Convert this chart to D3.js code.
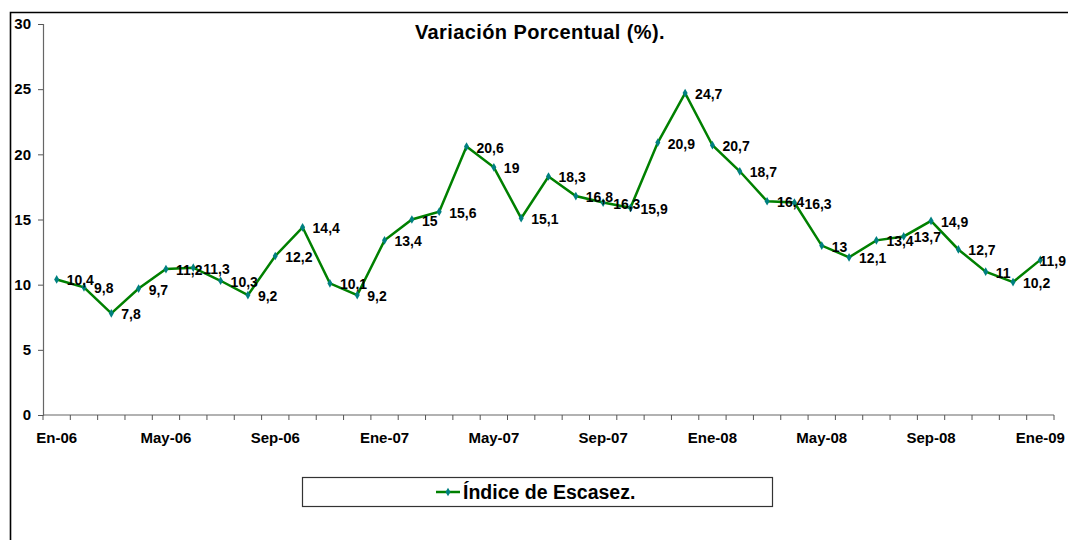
<!DOCTYPE html>
<html>
<head>
<meta charset="utf-8">
<script src="https://cdn.jsdelivr.net/npm/d3@7"></script>
<style>
  body { margin: 0; background: #fff; }
  svg text { font-family: "Liberation Sans", Arial, sans-serif; font-weight: bold; fill: #000; }
</style>
</head>
<body>
<div id="plot"></div>
<script>
// monthly categories En-06 .. Ene-09
var months = ["En-06","Feb-06","Mar-06","Abr-06","May-06","Jun-06","Jul-06","Ago-06","Sep-06","Oct-06","Nov-06","Dic-06",
              "Ene-07","Feb-07","Mar-07","Abr-07","May-07","Jun-07","Jul-07","Ago-07","Sep-07","Oct-07","Nov-07","Dic-07",
              "Ene-08","Feb-08","Mar-08","Abr-08","May-08","Jun-08","Jul-08","Ago-08","Sep-08","Oct-08","Nov-08","Dic-08",
              "Ene-09"];
var values = [10.4, 9.8, 7.8, 9.7, 11.2, 11.3, 10.3, 9.2, 12.2, 14.4, 10.1, 9.2,
              13.4, 15, 15.6, 20.6, 19, 15.1, 18.3, 16.8, 16.3, 15.9, 20.9, 24.7,
              20.7, 18.7, 16.4, 16.3, 13, 12.1, 13.4, 13.7, 14.9, 12.7, 11, 10.2,
              11.9];
var shownLabels = ["En-06","May-06","Sep-06","Ene-07","May-07","Sep-07","Ene-08","May-08","Sep-08","Ene-09"];
var yTicks = [0, 5, 10, 15, 20, 25, 30];
var seriesName = "Índice de Escasez.";
var title = "Variación Porcentual (%).";

var width = 1068, height = 540;
var svg = d3.select("#plot").append("svg")
    .attr("width", width)
    .attr("height", height);

// outer frame (right and bottom edges run off the picture)
svg.append("path")
    .attr("d", "M10.5,540 L10.5,12.5 L1068,12.5")
    .attr("fill", "none")
    .attr("stroke", "#000")
    .attr("stroke-width", 1.6);

var x = d3.scaleBand().domain(months).range([43, 1054]);
var y = d3.scaleLinear().domain([0, 30]).range([415, 24]);

function cx(d) { return x(d) + x.bandwidth() / 2; }

// x axis: category ticks at band edges
var xAxis = svg.append("g").attr("transform", "translate(0,415)");
xAxis.append("line")
    .attr("x1", 43).attr("x2", 1054)
    .attr("stroke", "#666").attr("stroke-width", 1.2);
var edges = months.map(function(m) { return x(m); }).concat([x.range()[1]]);
xAxis.selectAll(".xt").data(edges).enter().append("line")
    .attr("x1", function(d) { return d; }).attr("x2", function(d) { return d; })
    .attr("y1", 0).attr("y2", 5)
    .attr("stroke", "#555").attr("stroke-width", 1);
xAxis.selectAll(".xl").data(shownLabels).enter().append("text")
    .attr("x", function(d) { return cx(d); })
    .attr("y", 28)
    .attr("text-anchor", "middle")
    .style("font-size", "15px")
    .text(function(d) { return d; });

// y axis
var yAxis = svg.append("g").attr("transform", "translate(43,0)")
    .call(d3.axisLeft(y).tickValues(yTicks).tickSize(5).tickPadding(7));
yAxis.select(".domain").attr("stroke", "#666").attr("stroke-width", 1.2);
yAxis.selectAll(".tick line").attr("stroke", "#555");
yAxis.selectAll(".tick text")
    .style("font-size", "15px")
    .style("font-family", "'Liberation Sans', Arial, sans-serif")
    .style("font-weight", "bold")
    .attr("fill", "#000");

// title
svg.append("text")
    .attr("x", 540).attr("y", 39)
    .attr("text-anchor", "middle")
    .style("font-size", "20px")
    .style("letter-spacing", "0.4px")
    .text(title);

var data = months.map(function(m, i) { return { m: m, v: values[i] }; });

var line = d3.line()
    .x(function(d) { return cx(d.m); })
    .y(function(d) { return y(d.v); });

svg.append("path")
    .datum(data)
    .attr("d", line)
    .attr("fill", "none")
    .attr("stroke", "#008000")
    .attr("stroke-width", 2.5)
    .attr("stroke-linejoin", "miter");

var diamond = d3.symbol().type(d3.symbolDiamond).size(22);
svg.selectAll(".pt").data(data).enter().append("path")
    .attr("transform", function(d) { return "translate(" + cx(d.m) + "," + y(d.v) + ")"; })
    .attr("d", diamond)
    .attr("fill", "#008080");

svg.selectAll(".lbl").data(data).enter().append("text")
    .attr("x", function(d) { return cx(d.m) + 10; })
    .attr("y", function(d) { return y(d.v) + 6; })
    .style("font-size", "14px")
    .text(function(d) { return String(d.v).replace(".", ","); })
    .each(function() {
        // keep labels inside the picture (like the last one)
        var w = this.getComputedTextLength();
        var lx = +d3.select(this).attr("x");
        if (lx + w > width - 2) d3.select(this).attr("x", width - 2 - w);
    });

// legend
var lg = svg.append("g");
lg.append("rect")
    .attr("x", 302.5).attr("y", 477.5)
    .attr("width", 470).attr("height", 29)
    .attr("fill", "#fff")
    .attr("stroke", "#333").attr("stroke-width", 1.2);
lg.append("line")
    .attr("x1", 436).attr("x2", 460).attr("y1", 492).attr("y2", 492)
    .attr("stroke", "#008000").attr("stroke-width", 2.5);
lg.append("path")
    .attr("transform", "translate(448,492)")
    .attr("d", diamond)
    .attr("fill", "#008080");
lg.append("text")
    .attr("x", 463).attr("y", 499)
    .style("font-size", "19.5px")
    .text(seriesName);
</script>
</body>
</html>
